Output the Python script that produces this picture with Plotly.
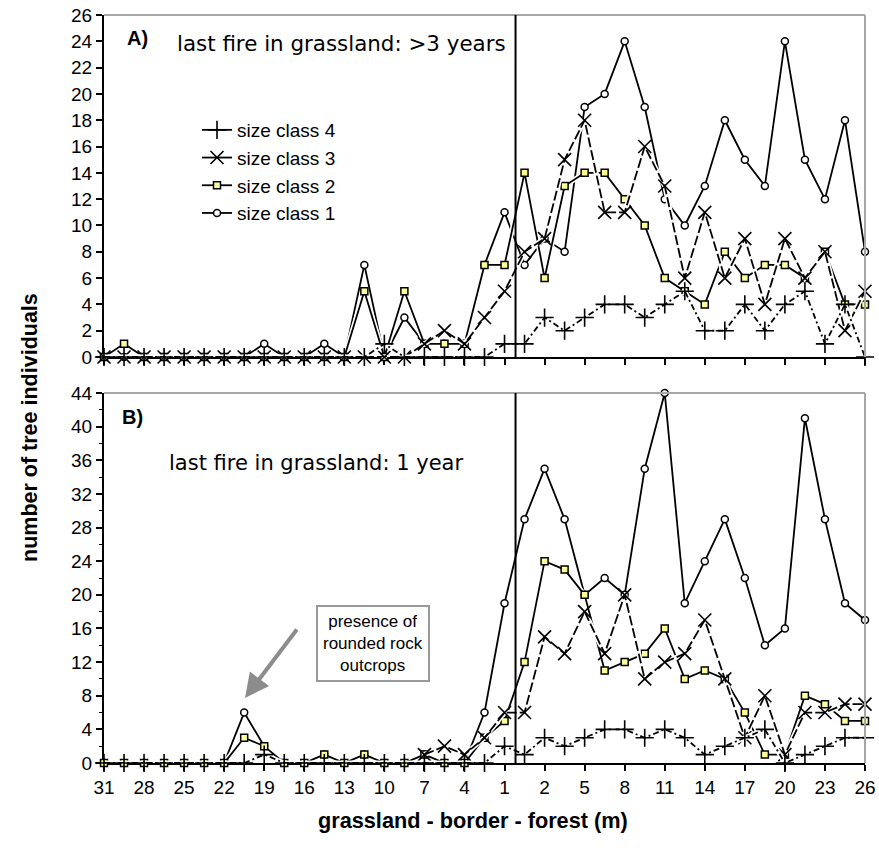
import plotly.graph_objects as go

# ---------------- data ----------------
categories = ["g31", "g29.5", "g28", "g26.5", "g25", "g23.5", "g22", "g20.5", "g19", "g17.5",
              "g16", "g14.5", "g13", "g11.5", "g10", "g8.5", "g7", "g5.5", "g4", "g2.5", "g1",
              "f0.5", "f2", "f3.5", "f5", "f6.5", "f8", "f9.5", "f11", "f12.5", "f14", "f15.5",
              "f17", "f18.5", "f20", "f21.5", "f23", "f24.5", "f26"]
tick_labels = ["31", "28", "25", "22", "19", "16", "13", "10", "7", "4", "1",
               "2", "5", "8", "11", "14", "17", "20", "23", "26"]

# Panel A: last fire in grassland >3 years
a_class1 = [0, 0, 0, 0, 0, 0, 0, 0, 1, 0, 0, 1, 0, 7, 0, 3, 1, 1, 1, 7, 11, 7, 9, 8, 19, 20,
            24, 19, 12, 10, 13, 18, 15, 13, 24, 15, 12, 18, 8]
a_class2 = [0, 1, 0, 0, 0, 0, 0, 0, 0, 0, 0, 0, 0, 5, 0, 5, 1, 1, 1, 7, 7, 14, 6, 13, 14, 14,
            12, 10, 6, 5, 4, 8, 6, 7, 7, 6, 8, 4, 4]
a_class3 = [0, 0, 0, 0, 0, 0, 0, 0, 0, 0, 0, 0, 0, 0, 0, 0, 1, 2, 1, 3, 5, 8, 9, 15, 18, 11,
            11, 16, 13, 6, 11, 6, 9, 4, 9, 6, 8, 2, 5]
a_class4 = [0, 0, 0, 0, 0, 0, 0, 0, 0, 0, 0, 0, 0, 0, 1, 0, 0, 0, 0, 0, 1, 1, 3, 2, 3, 4,
            4, 3, 4, 5, 2, 2, 4, 2, 4, 5, 1, 4, 0]

# Panel B: last fire in grassland 1 year
b_class1 = [0, 0, 0, 0, 0, 0, 0, 6, 2, 0, 0, 1, 0, 1, 0, 0, 1, 0, 0, 6, 19, 29, 35, 29, 20, 22,
            20, 35, 44, 19, 24, 29, 22, 14, 16, 41, 29, 19, 17]
b_class2 = [0, 0, 0, 0, 0, 0, 0, 3, 2, 0, 0, 1, 0, 1, 0, 0, 1, 0, 0, 3, 5, 12, 24, 23, 20, 11,
            12, 13, 16, 10, 11, 10, 6, 1, 1, 8, 7, 5, 5]
b_class3 = [None, None, None, None, None, None, None, None, None, None, None, None, None,
            None, None, None, 1, 2, 1, 3, 6, 6, 15, 13, 18, 13, 20, 10, 12, 13, 17, 10, 3, 8,
            1, 6, 6, 7, 7]
b_class4 = [0, 0, 0, 0, 0, 0, 0, 0, 1, 0, 0, 0, 0, 0, 0, 0, 0, 0, 0, 0, 2, 1, 3, 2, 3, 4,
            4, 3, 4, 3, 1, 2, 3, 4, 0, 1, 2, 3, 3]

series_names = ["size class 1", "size class 2", "size class 3", "size class 4"]
border_index = 20.55  # border between grassland and forest, on the category axis

# ---------------- styling ----------------
W, H = 879, 852
X0, X1 = 104, 865
A_TOP, A_BOT = 15, 357
B_TOP, B_BOT = 393, 763
ARIAL = "Arial, Liberation Sans, sans-serif"


def px(x):
    return x / W


def py(y):
    return 1 - y / H


styles = [
    dict(marker=dict(symbol="circle", size=7, color="white", line=dict(color="black", width=1.5)),
         dash="solid"),
    dict(marker=dict(symbol="square", size=7, color="#FFFF99", line=dict(color="black", width=1.5)),
         dash="solid"),
    dict(marker=dict(symbol="x-thin-open", size=13, color="black", line=dict(color="black", width=1.6)),
         dash="10px,3px"),
    dict(marker=dict(symbol="cross-thin-open", size=13, color="black", line=dict(color="black", width=1.6)),
         dash="6px,3px,2px,3px"),
]

fig = go.Figure()

panels = [
    ("x", "y", [a_class1, a_class2, a_class3, a_class4]),
    ("x2", "y2", [b_class1, b_class2, b_class3, b_class4]),
]

for xa, ya, data in panels:
    for name, vals, st in zip(series_names, data, styles):
        # white halo underneath each line (as in the original drawing)
        fig.add_trace(go.Scatter(x=categories, y=vals, mode="lines", xaxis=xa, yaxis=ya,
                                 line=dict(color="white", width=5), showlegend=False,
                                 hoverinfo="skip", cliponaxis=False))
        fig.add_trace(go.Scatter(x=categories, y=vals, mode="lines+markers", name=name,
                                 xaxis=xa, yaxis=ya,
                                 line=dict(color="black", width=1.8, dash=st["dash"]),
                                 marker=st["marker"], showlegend=False, cliponaxis=False))

# legend entries (solid line samples, as in the original legend)
for name, st in zip(series_names, styles):
    fig.add_trace(go.Scatter(x=[None], y=[None], mode="lines+markers", name=name,
                             xaxis="x", yaxis="y", line=dict(color="black", width=1.8),
                             marker=st["marker"], showlegend=True, hoverinfo="skip"))

xdom = [px(X0), px(X1)]
common_x = dict(type="category", categoryorder="array", categoryarray=categories,
                autorange=False, range=[0, len(categories) - 1], domain=xdom,
                showgrid=False, zeroline=False, automargin=False,
                tickvals=categories[::2], ticktext=tick_labels,
                ticks="outside", ticklen=6, tickwidth=1.5, tickcolor="black",
                showline=True, linecolor="black", linewidth=2, layer="below traces",
                tickfont=dict(family=ARIAL, size=19, color="black"))
overlay_x = dict(range=[0, len(categories) - 1], autorange=False, domain=xdom,
                 showgrid=False, zeroline=False, automargin=False,
                 tick0=0, dtick=2, ticks="inside", ticklen=6, tickwidth=1.5, tickcolor="black",
                 showticklabels=False, showline=False, layer="below traces",
                 minor=dict(ticks="outside", dtick=1, ticklen=3, tickwidth=1.2, tickcolor="black"))

fig.update_layout(
    width=W, height=H, margin=dict(l=0, r=0, t=0, b=0, pad=0), autosize=False,
    paper_bgcolor="white", plot_bgcolor="white",
    font=dict(family=ARIAL, size=19, color="black"),
    xaxis=dict(common_x, anchor="y", showticklabels=False),
    xaxis2=dict(common_x, anchor="y2", showticklabels=True),
    xaxis3=dict(overlay_x, anchor="y", overlaying="x"),
    xaxis4=dict(overlay_x, anchor="y2", overlaying="x2"),
    yaxis=dict(domain=[py(A_BOT), py(A_TOP)], anchor="x", range=[0, 26], autorange=False, dtick=2,
               ticks="outside", ticklen=6, tickwidth=1.5, tickcolor="black", automargin=False,
               showline=True, linecolor="black", linewidth=2, showgrid=False, zeroline=False,
               layer="below traces", tickfont=dict(family=ARIAL, size=19)),
    yaxis2=dict(domain=[py(B_BOT), py(B_TOP)], anchor="x2", range=[0, 44], autorange=False, dtick=4,
                ticks="outside", ticklen=6, tickwidth=1.5, tickcolor="black", automargin=False,
                minor=dict(ticks="outside", dtick=2, ticklen=3, tickwidth=1.2, tickcolor="black"),
                showline=True, linecolor="black", linewidth=2, showgrid=False, zeroline=False,
                layer="below traces", tickfont=dict(family=ARIAL, size=19)),
    yaxis3=dict(domain=[py(A_BOT), py(A_TOP)], anchor="x", overlaying="y", range=[0, 26],
                autorange=False, automargin=False,
                dtick=2, ticks="inside", ticklen=6, tickwidth=1.5, tickcolor="black",
                showticklabels=False, showgrid=False, zeroline=False, showline=False),
    yaxis4=dict(domain=[py(B_BOT), py(B_TOP)], anchor="x2", overlaying="y2", range=[0, 44],
                autorange=False, automargin=False,
                dtick=4, ticks="inside", ticklen=6, tickwidth=1.5, tickcolor="black",
                showticklabels=False, showgrid=False, zeroline=False, showline=False),
    showlegend=True,
    legend=dict(x=px(197), y=py(111), xanchor="left", yanchor="top", traceorder="reversed",
                bgcolor="rgba(0,0,0,0)", font=dict(family=ARIAL, size=19), itemwidth=30,
                tracegroupgap=0),
)

# frame (top and right in grey), border lines
shapes = []
for xa, ya in (("x", "y"), ("x2", "y2")):
    shapes.append(dict(type="line", xref=f"{xa} domain", yref=f"{ya} domain", x0=0, x1=1, y0=1, y1=1,
                       line=dict(color="#a6a6a6", width=2)))
    shapes.append(dict(type="line", xref=f"{xa} domain", yref=f"{ya} domain", x0=1, x1=1, y0=0, y1=1,
                       line=dict(color="#a6a6a6", width=2)))
    shapes.append(dict(type="line", xref=xa, yref=f"{ya} domain", x0=border_index, x1=border_index,
                       y0=0, y1=1, line=dict(color="black", width=2)))
fig.update_layout(shapes=shapes)

ann = []
ann.append(dict(text="<b>A)</b>", x=px(125), y=py(38), xref="paper", yref="paper", xanchor="left",
                yanchor="middle", showarrow=False, font=dict(family=ARIAL, size=20)))
ann.append(dict(text="<b>B)</b>", x=px(120), y=py(417), xref="paper", yref="paper", xanchor="left",
                yanchor="middle", showarrow=False, font=dict(family=ARIAL, size=20)))
ann.append(dict(text="last fire in grassland: >3 years", x=px(175), y=py(43), xref="paper",
                yref="paper", xanchor="left", yanchor="middle", showarrow=False,
                font=dict(family="DejaVu Sans", size=21.4)))
ann.append(dict(text="last fire in grassland: 1 year", x=px(167), y=py(463), xref="paper",
                yref="paper", xanchor="left", yanchor="middle", showarrow=False,
                font=dict(family="DejaVu Sans", size=21)))
ann.append(dict(text="presence of<br>rounded rock<br>outcrops", x=px(373), y=py(643), xref="paper",
                yref="paper", xanchor="center", yanchor="middle", showarrow=False,
                font=dict(family=ARIAL, size=17), bordercolor="#999999", borderwidth=2,
                borderpad=5, bgcolor="white"))
ann.append(dict(text="", x=px(245), y=py(698), xref="paper", yref="paper", showarrow=True,
                ax=53, ay=-70, arrowhead=2, arrowsize=1.2, arrowwidth=4, arrowcolor="#8c8c8c"))
ann.append(dict(text="<b>number of tree individuals</b>", x=px(30), y=py(428), xref="paper",
                yref="paper", xanchor="center", yanchor="middle", textangle=-90, showarrow=False,
                font=dict(family=ARIAL, size=21.5)))
ann.append(dict(text="<b>grassland - border - forest (m)</b>", x=px(473), y=py(820), xref="paper",
                yref="paper", xanchor="center", yanchor="middle", showarrow=False,
                font=dict(family=ARIAL, size=21.7)))
fig.update_layout(annotations=ann)

fig.write_html("out.html",
               post_script="document.body.style.margin='0';document.body.style.padding='0';")
